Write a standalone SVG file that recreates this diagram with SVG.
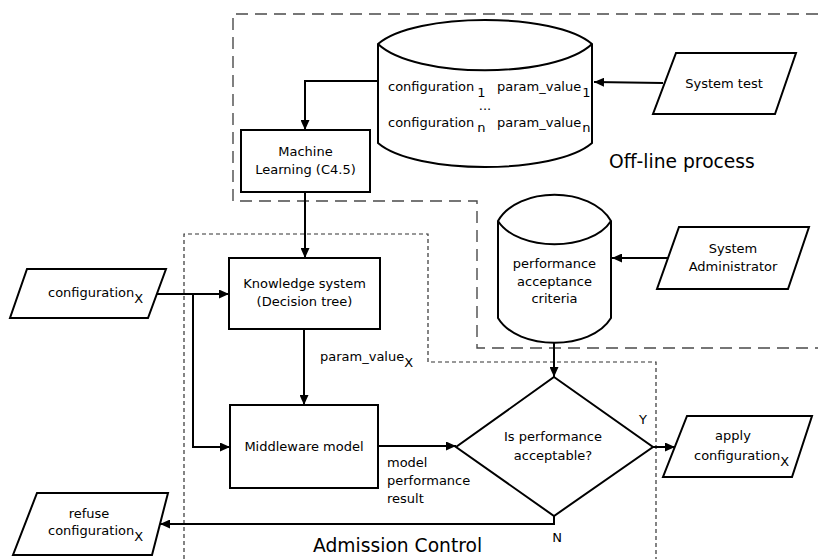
<svg xmlns="http://www.w3.org/2000/svg" width="818" height="559" viewBox="0 0 818 559">
  <defs>
    <marker id="arrow" markerUnits="userSpaceOnUse" markerWidth="11" markerHeight="9" refX="10" refY="4.5" orient="auto">
      <path d="M0,0 L10,4.5 L0,9 Z" fill="#000"/>
    </marker>
  </defs>
  <style>
    .shape { fill: #fff; stroke: #000; stroke-width: 2; stroke-linejoin: miter; }
    .edge { fill: none; stroke: #000; stroke-width: 2; }
    .offline { fill: none; stroke: #4a4a4a; stroke-width: 1.4; stroke-dasharray: 12 7; }
    .admission { fill: none; stroke: #333; stroke-width: 1.2; stroke-dasharray: 4 3; }
    text { font-family: "DejaVu Sans", "Liberation Sans", sans-serif; font-size: 13px; fill: #000; }
    .mid { text-anchor: middle; }
    .region { font-size: 18.7px; }
  </style>

  <!-- process boundaries -->
  <g id="boundaries">
    <path class="offline" d="M818,14 H233 V201 H477 V348 H818"/>
    <path class="admission" d="M184,559 V234 H428 V362 H656 V559"/>
    <text class="region" x="609" y="168">Off-line process</text>
    <text class="region" x="313" y="552">Admission Control</text>
  </g>

  <!-- connectors -->
  <g id="connectors">
    <path class="edge" d="M663,83 L594,82" marker-end="url(#arrow)"/>
    <path class="edge" d="M378,81 H305 V130" marker-end="url(#arrow)"/>
    <path class="edge" d="M305,192 V258" marker-end="url(#arrow)"/>
    <path class="edge" d="M157,294 H229" marker-end="url(#arrow)"/>
    <path class="edge" d="M193,294 V447 H230" marker-end="url(#arrow)"/>
    <path class="edge" d="M304,329 V405" marker-end="url(#arrow)"/>
    <path class="edge" d="M378,446 H456" marker-end="url(#arrow)"/>
    <path class="edge" d="M676,258 H612" marker-end="url(#arrow)"/>
    <path class="edge" d="M554,343 V377" marker-end="url(#arrow)"/>
    <path class="edge" d="M653,447 H675" marker-end="url(#arrow)"/>
    <path class="edge" d="M554,516 V524 H160" marker-end="url(#arrow)"/>
    <text x="320" y="361">param_value<tspan dy="6">X</tspan></text>
    <text x="387" y="467">model</text>
    <text x="387" y="485">performance</text>
    <text x="387" y="503">result</text>
    <text class="mid" x="643" y="424">Y</text>
    <text class="mid" x="557" y="542">N</text>
  </g>

  <!-- training data store -->
  <g id="training-data">
    <path class="shape" d="M378,44 C415,12 555,12 592,44 V143 C555,175 415,175 378,143 Z"/>
    <path class="edge" d="M378,44 C415,79 555,79 592,44"/>
    <text x="388" y="91">configuration<tspan dx="3" dy="6">1</tspan></text>
    <text x="497" y="91">param_value<tspan dx="1" dy="6">1</tspan></text>
    <text class="mid" x="485" y="110">...</text>
    <text x="388" y="127">configuration<tspan dx="3" dy="5">n</tspan></text>
    <text x="497" y="127">param_value<tspan dx="1" dy="5">n</tspan></text>
  </g>

  <g id="system-test">
    <path class="shape" d="M676,53 H796 L775,114 H653 Z"/>
    <text class="mid" x="724" y="88">System test</text>
  </g>

  <g id="machine-learning">
    <rect class="shape" x="241" y="130" width="129" height="62"/>
    <text class="mid" x="305.5" y="156">Machine</text>
    <text class="mid" x="305.5" y="174">Learning (C4.5)</text>
  </g>

  <g id="acceptance-criteria">
    <path class="shape" d="M498,221 C518,186 591,186 611,221 V318 C591,351 518,351 498,318 Z"/>
    <path class="edge" d="M498,221 C518,252 591,252 611,221"/>
    <text class="mid" x="554.5" y="268">performance</text>
    <text class="mid" x="554.5" y="286">acceptance</text>
    <text class="mid" x="554.5" y="303">criteria</text>
  </g>

  <g id="system-administrator">
    <path class="shape" d="M679,227 H809 L788,289 H657 Z"/>
    <text class="mid" x="733" y="253">System</text>
    <text class="mid" x="733" y="271">Administrator</text>
  </g>

  <g id="configuration-x">
    <path class="shape" d="M27,269 H166 L148,318 H10 Z"/>
    <text x="48" y="297">configuration<tspan dy="6">X</tspan></text>
  </g>

  <g id="knowledge-system">
    <rect class="shape" x="229" y="258" width="151" height="71"/>
    <text class="mid" x="304.5" y="288">Knowledge system</text>
    <text class="mid" x="304.5" y="306">(Decision tree)</text>
  </g>

  <g id="middleware-model">
    <rect class="shape" x="230" y="405" width="148" height="83"/>
    <text class="mid" x="304" y="451">Middleware model</text>
  </g>

  <g id="decision">
    <path class="shape" d="M554,377 L653,447 L554,516 L456,447 Z"/>
    <text class="mid" x="553" y="441">Is performance</text>
    <text class="mid" x="553" y="460">acceptable?</text>
  </g>

  <g id="apply-configuration">
    <path class="shape" d="M687,416 H812 L792,477 H663 Z"/>
    <text class="mid" x="733" y="440">apply</text>
    <text x="694" y="460">configuration<tspan dy="6">X</tspan></text>
  </g>

  <g id="refuse-configuration">
    <path class="shape" d="M37,493 H168 L152,555 H13 Z"/>
    <text class="mid" x="89" y="518">refuse</text>
    <text x="48" y="535">configuration<tspan dy="6">X</tspan></text>
  </g>
</svg>
